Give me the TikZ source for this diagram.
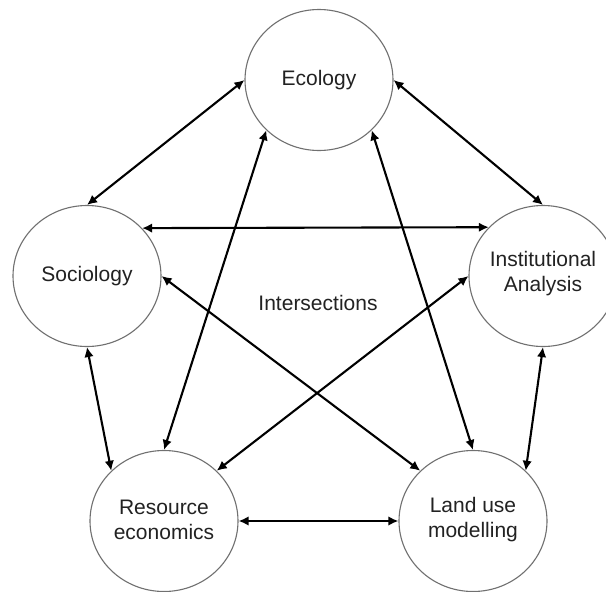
\documentclass[tikz,border=0pt]{standalone}
\usepackage{fontspec}
\setmainfont{Liberation Sans}
\usetikzlibrary{arrows.meta,shapes.geometric}
\definecolor{ringgray}{HTML}{707070}
\definecolor{textdark}{HTML}{222222}
\tikzset{
  ring/.style={ellipse, draw=ringgray, line width=1.1pt, minimum width=148pt, minimum height=141pt, inner sep=0pt},
  ringtext/.style={align=center, text=textdark, font=\fontsize{21}{25}\selectfont, inner sep=0pt},
  link/.style={draw=black, line width=2.1pt, {Latex[length=10pt,width=9.5pt]}-{Latex[length=10pt,width=9.5pt]}}
}
\begin{document}
\begin{tikzpicture}[x=1pt,y=-1pt]
\useasboundingbox[clip] (0,0) rectangle (606,592);
\fill[white] (0,0) rectangle (606,592);
\node[ring] (eco) at (319,80) {};
\node[ring] (soc) at (87,276) {};
\node[ring] (ins) at (543,276) {};
\node[ring] (res) at (164,521) {};
\node[ring] (lan) at (473,521) {};
\node[ringtext] (ecot) at (eco.center) {Ecology};
\node[ringtext] (soct) at (soc.center) {Sociology};
\node[ringtext] (inst) at ([yshift=2pt]ins.center) {Institutional\\Analysis};
\node[ringtext] (rest) at ([yshift=1pt]res.center) {Resource\\economics};
\node[ringtext] (lant) at ([yshift=1pt]lan.center) {Land use\\modelling};
\node[ringtext] (mid) at (318,303) {Intersections};
\draw[link] (eco.west) -- (soc.north);
\draw[link] (eco.east) -- (ins.north);
\draw[link] (soc.41.4) -- (ins.138.6);
\draw[link] (eco.south west) -- (res.north);
\draw[link] (eco.south east) -- (lan.north);
\draw[link] (soc.east) -- (lan.north west);
\draw[link] (ins.west) -- (res.north east);
\draw[link] (soc.south) -- (res.north west);
\draw[link] (ins.south) -- (lan.north east);
\draw[link] (res.east) -- (lan.west);
\end{tikzpicture}
\end{document}
